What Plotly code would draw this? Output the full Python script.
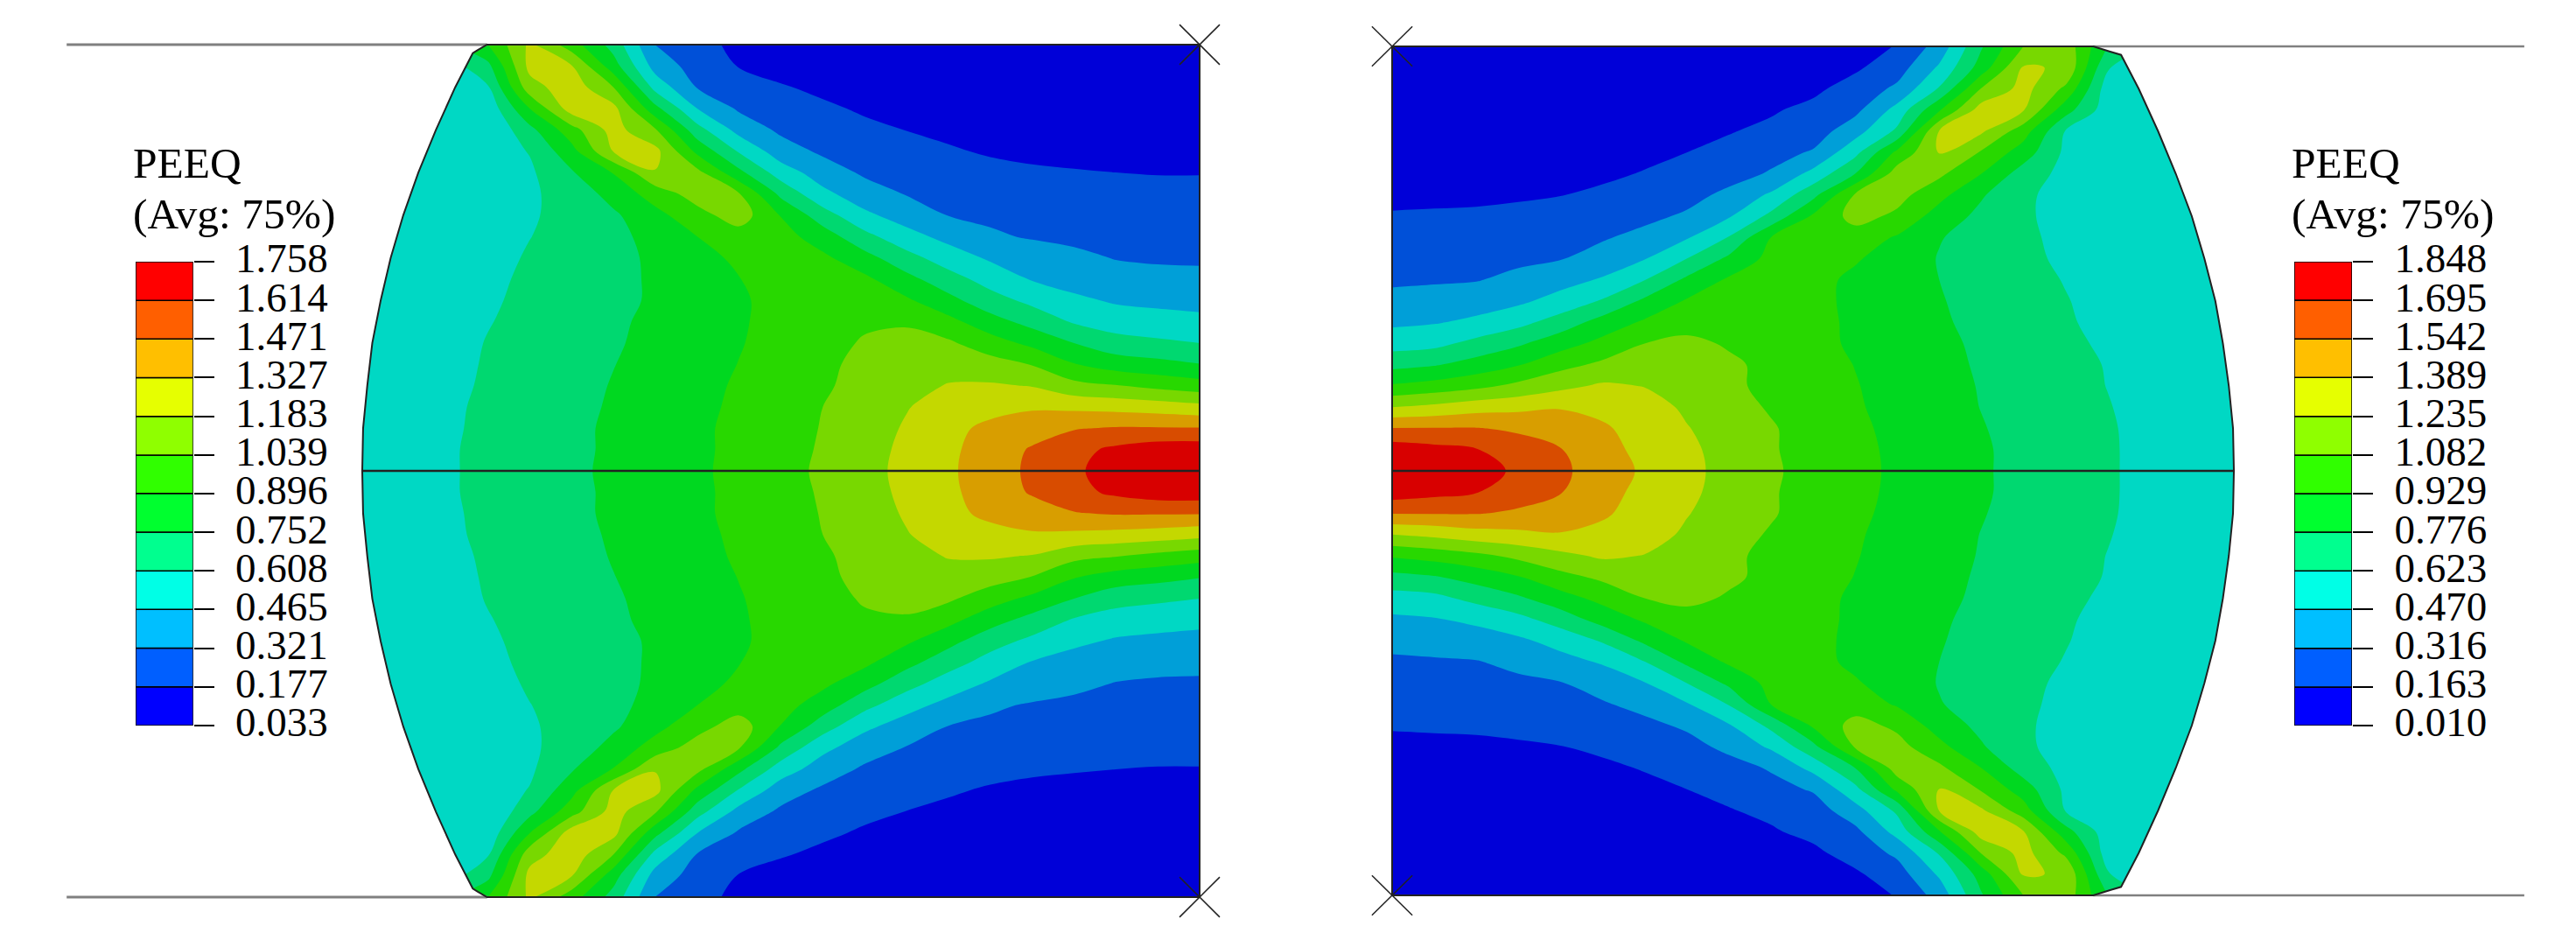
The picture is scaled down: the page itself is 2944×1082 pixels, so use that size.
import numpy as np
import plotly.graph_objects as go

# page body keeps its 8 px margin, so the figure is smaller than the window
PAGE_W, PAGE_H, BODY = 2944, 1082, 8
W, H = PAGE_W - 2 * BODY, PAGE_H - 2 * BODY
FONT = "Liberation Serif"

# legend levels
LEVELS_LEFT = [0.033, 0.177, 0.321, 0.465, 0.608, 0.752, 0.896, 1.039, 1.183, 1.327, 1.471, 1.614, 1.758]
LEVELS_RIGHT = [0.010, 0.163, 0.316, 0.470, 0.623, 0.776, 0.929, 1.082, 1.235, 1.389, 1.542, 1.695, 1.848]
TITLE_LINES = ["PEEQ", "(Avg: 75%)"]

LEGEND_COLORS = ["#0000ff", "#005fff", "#00bfff", "#00ffe6", "#00ff8f", "#00ff2f",
                 "#30ff00", "#8fff00", "#e6ff00", "#ffbf00", "#ff5f00", "#ff0000"]
BODY_COLORS = ["#0000d8", "#0050d8", "#009fd8", "#00d8c4", "#00d870", "#00d820",
               "#28d800", "#78d800", "#c4d800", "#d89e00", "#d84c00", "#d80000"]

# normalised model grid: X from mid-plane, Y from symmetry line
GRID_X = [round(0.05 * i, 2) for i in range(21)]
GRID_Y = [round(1 - 0.05 * i, 2) for i in range(21)]

# barrel profile of the free surface
PROFILE_Y = [0, .1, .2, .3, .4, .5, .6, .7, .8, .9, .98, .9875, 1]
PROFILE_X_LEFT = [1, .999, .994, .988, .978, .966, .951, .933, .912, .889, .868, .862, .851]
PROFILE_X_RIGHT = [1, .999, .994, .987, .978, .965, .95, .931, .91, .887, .866, .853, .833]

# strain on upper half, in contour-band units, rows Y=1..0
# left panel columns run X=1..0 as in the picture
PEEQ_LEFT = [
    [4.0, 4.5, 4.8, 6.0, 8.2, 6.45, 4.6, 1.97, 1.27, 0.8, 0.6, 0.5, 0.4, 0.35, 0.3, 0.3, 0.3, 0.3, 0.3, 0.3, 0.3],
    [3.4, 3.4, 3.5, 4.73, 8.3, 8.05, 5.43, 2.59, 1.57, 0.95, 0.55, 0.45, 0.35, 0.3, 0.3, 0.3, 0.3, 0.3, 0.3, 0.3, 0.3],
    [3.4, 3.4, 3.5, 3.9, 7.6, 8.6, 7.0, 3.65, 1.95, 1.55, 1.1, 0.75, 0.5, 0.4, 0.35, 0.3, 0.3, 0.3, 0.3, 0.3, 0.3],
    [3.4, 3.4, 3.5, 3.3, 6.0, 8.5, 8.3, 5.3, 3.0, 1.86, 1.5, 1.2, 0.85, 0.6, 0.45, 0.4, 0.35, 0.3, 0.3, 0.3, 0.3],
    [3.3, 3.4, 3.5, 3.05, 4.7, 6.6, 8.4, 7.1, 4.4, 2.65, 1.82, 1.55, 1.25, 0.98, 0.7, 0.5, 0.4, 0.35, 0.3, 0.3, 0.3],
    [3.3, 3.4, 3.4, 3.5, 4.05, 5.65, 8.05, 8.3, 5.75, 3.9, 2.45, 1.83, 1.6, 1.38, 1.15, 0.85, 0.6, 0.45, 0.4, 0.35, 0.35],
    [3.3, 3.3, 3.4, 3.5, 3.85, 4.9, 6.05, 7.95, 7.3, 5.25, 3.5, 2.5, 1.85, 1.7, 1.55, 1.4, 1.25, 1.12, 1.0, 0.97, 0.97],
    [3.2, 3.3, 3.4, 3.5, 3.85, 4.4, 5.35, 6.45, 7.45, 7.05, 4.75, 3.25, 2.45, 1.95, 1.75, 1.6, 1.4, 1.3, 1.25, 1.2, 1.2],
    [3.2, 3.3, 3.4, 3.5, 3.9, 4.3, 4.85, 5.7, 6.65, 7.5, 5.95, 4.45, 3.2, 2.55, 1.97, 1.8, 1.65, 1.52, 1.45, 1.42, 1.4],
    [3.2, 3.3, 3.4, 3.6, 3.98, 4.35, 4.75, 5.3, 6.0, 6.55, 6.4, 5.5, 4.3, 3.35, 2.7, 2.15, 1.9, 1.75, 1.65, 1.6, 1.58],
    [3.2, 3.3, 3.45, 3.65, 4.1, 4.4, 4.75, 5.15, 5.65, 6.2, 6.45, 6.2, 5.35, 4.35, 3.5, 2.86, 2.56, 2.25, 1.95, 1.85, 1.83],
    [3.2, 3.35, 3.5, 3.75, 4.2, 4.45, 4.8, 5.1, 5.55, 5.98, 6.3, 6.45, 6.2, 5.3, 4.4, 3.6, 2.93, 2.6, 2.45, 2.33, 2.28],
    [3.2, 3.3, 3.5, 3.85, 4.25, 4.5, 4.8, 5.1, 5.5, 5.9, 6.25, 6.5, 6.55, 6.15, 5.3, 4.4, 3.75, 3.2, 2.88, 2.77, 2.7],
    [3.2, 3.3, 3.55, 3.95, 4.3, 4.6, 4.85, 5.2, 5.55, 5.9, 6.3, 6.45, 6.85, 6.85, 6.3, 5.4, 4.65, 3.9, 3.53, 3.37, 3.24],
    [3.2, 3.3, 3.6, 4.05, 4.35, 4.6, 4.9, 5.25, 5.6, 5.95, 6.3, 6.65, 7.1, 7.4, 7.15, 6.45, 5.75, 5.0, 4.38, 4.18, 4.0],
    [3.2, 3.3, 3.65, 4.1, 4.4, 4.65, 4.98, 5.3, 5.65, 6.02, 6.45, 6.8, 7.25, 7.55, 7.65, 7.4, 6.95, 6.05, 5.53, 5.3, 5.03],
    [3.2, 3.3, 3.7, 4.15, 4.45, 4.7, 5.05, 5.4, 5.75, 6.1, 6.5, 6.9, 7.25, 7.7, 8.05, 8.1, 7.95, 7.3, 7.05, 6.72, 6.44],
    [3.2, 3.3, 3.8, 4.2, 4.5, 4.75, 5.1, 5.45, 5.8, 6.15, 6.55, 7.0, 7.45, 7.95, 8.4, 8.65, 8.88, 8.78, 8.67, 8.52, 8.3],
    [3.2, 3.3, 3.85, 4.2, 4.5, 4.8, 5.15, 5.5, 5.85, 6.2, 6.6, 7.05, 7.55, 8.1, 8.7, 9.25, 9.55, 9.93, 10.08, 10.07, 10.06],
    [3.2, 3.3, 3.9, 4.2, 4.5, 4.8, 5.15, 5.5, 5.85, 6.2, 6.65, 7.1, 7.65, 8.2, 8.8, 9.45, 10.1, 10.7, 11.2, 11.55, 11.6],
    [3.2, 3.3, 3.9, 4.2, 4.55, 4.85, 5.15, 5.55, 5.85, 6.25, 6.7, 7.15, 7.7, 8.25, 8.85, 9.5, 10.2, 10.85, 11.4, 11.75, 11.9],
]

# right panel columns run X=0..1
PEEQ_RIGHT = [
    [0.3, 0.3, 0.3, 0.3, 0.3, 0.3, 0.35, 0.35, 0.4, 0.4, 0.45, 0.6, 1.05, 2.4, 4.9, 7.0, 7.6, 5.0, 4.0, 3.8, 3.8],
    [0.3, 0.3, 0.3, 0.3, 0.3, 0.35, 0.4, 0.45, 0.5, 0.55, 0.65, 0.85, 1.55, 3.15, 5.45, 8.1, 7.9, 4.05, 3.6, 3.5, 3.5],
    [0.3, 0.3, 0.3, 0.35, 0.4, 0.45, 0.5, 0.55, 0.6, 0.65, 0.8, 1.4, 2.2, 4.1, 7.05, 8.35, 6.8, 3.5, 3.4, 3.4, 3.4],
    [0.3, 0.3, 0.35, 0.4, 0.45, 0.5, 0.6, 0.65, 0.75, 0.9, 1.25, 1.75, 3.35, 5.9, 8.5, 8.05, 5.4, 3.45, 3.45, 3.4, 3.4],
    [0.3, 0.35, 0.4, 0.45, 0.5, 0.6, 0.7, 0.8, 0.95, 1.2, 1.5, 2.6, 4.2, 8.05, 8.15, 6.45, 3.95, 3.5, 3.4, 3.35, 3.35],
    [0.3, 0.35, 0.4, 0.5, 0.6, 0.7, 0.8, 1.0, 1.25, 1.65, 2.1, 3.7, 6.25, 8.05, 6.9, 5.5, 3.8, 3.45, 3.4, 3.3, 3.3],
    [0.35, 0.4, 0.5, 0.6, 0.7, 0.85, 1.05, 1.3, 1.6, 2.1, 3.3, 5.0, 7.5, 7.2, 6.0, 4.55, 3.7, 3.4, 3.3, 3.3, 3.3],
    [0.8, 0.82, 0.85, 0.9, 0.98, 1.15, 1.35, 1.65, 2.25, 3.15, 4.7, 7.1, 7.35, 6.3, 5.1, 4.2, 3.6, 3.4, 3.25, 3.25, 3.25],
    [1.07, 1.1, 1.12, 1.2, 1.3, 1.5, 1.75, 2.15, 2.9, 4.25, 6.15, 7.35, 6.8, 5.55, 4.75, 4.15, 3.65, 3.4, 3.25, 3.2, 3.2],
    [1.3, 1.35, 1.4, 1.5, 1.65, 1.9, 2.3, 2.9, 4.05, 6.0, 6.45, 6.55, 5.9, 5.05, 4.65, 4.15, 3.8, 3.45, 3.25, 3.2, 3.2],
    [1.55, 1.6, 1.7, 1.8, 1.95, 2.4, 2.95, 4.0, 5.2, 6.3, 6.4, 6.1, 5.55, 4.95, 4.55, 4.2, 3.85, 3.5, 3.3, 3.2, 3.2],
    [1.85, 1.9, 1.95, 2.25, 2.65, 3.1, 3.98, 5.2, 6.15, 6.4, 6.3, 5.8, 5.5, 5.0, 4.65, 4.35, 3.95, 3.6, 3.35, 3.25, 3.2],
    [2.27, 2.36, 2.56, 2.82, 3.35, 4.1, 5.2, 6.1, 6.35, 6.45, 6.25, 5.8, 5.45, 5.05, 4.75, 4.4, 4.05, 3.65, 3.4, 3.3, 3.25],
    [2.8, 2.93, 3.2, 3.7, 4.45, 5.4, 6.15, 6.45, 6.5, 6.5, 6.25, 5.85, 5.5, 5.1, 4.8, 4.45, 4.1, 3.75, 3.45, 3.3, 3.25],
    [3.6, 3.73, 4.3, 4.85, 5.6, 6.3, 7.0, 7.35, 6.85, 6.55, 6.3, 5.85, 5.55, 5.2, 4.85, 4.5, 4.2, 3.85, 3.5, 3.35, 3.3],
    [4.68, 4.92, 5.4, 5.95, 6.7, 7.2, 7.5, 7.6, 7.25, 6.65, 6.35, 5.98, 5.6, 5.25, 4.9, 4.6, 4.3, 3.95, 3.55, 3.4, 3.3],
    [6.13, 6.4, 6.75, 7.25, 7.75, 8.15, 7.97, 7.55, 7.2, 6.75, 6.4, 6.05, 5.65, 5.3, 4.95, 4.65, 4.35, 3.98, 3.6, 3.4, 3.3],
    [8.0, 8.25, 8.6, 8.75, 8.95, 8.7, 8.4, 7.85, 7.4, 6.9, 6.5, 6.1, 5.7, 5.35, 4.98, 4.65, 4.35, 4.05, 3.65, 3.4, 3.3],
    [10.05, 10.05, 10.05, 9.85, 9.45, 9.15, 8.55, 8.05, 7.55, 7.1, 6.55, 6.2, 5.75, 5.35, 5.05, 4.7, 4.4, 4.1, 3.7, 3.4, 3.3],
    [11.55, 11.3, 11.05, 10.45, 10.05, 9.3, 8.75, 8.2, 7.65, 7.1, 6.6, 6.2, 5.85, 5.45, 5.1, 4.75, 4.45, 4.1, 3.75, 3.45, 3.3],
    [11.8, 11.65, 11.35, 10.85, 10.2, 9.5, 8.85, 8.25, 7.7, 7.15, 6.65, 6.25, 5.85, 5.5, 5.1, 4.75, 4.45, 4.1, 3.75, 3.45, 3.3],
]


def discrete_scale(colors):
    n = len(colors)
    scale = []
    for i, c in enumerate(colors):
        scale += [[i / n, c], [(i + 1) / n, c]]
    return scale


def body_traces(rows, levels, profile_x, axes, grid_x, platen_end, platen_width):
    xa, ya = axes
    rows = np.array(rows)
    low, high = levels[0], levels[-1]
    step = (high - low) / 12
    peeq = low + rows * step
    # lower half is the mirror of the upper half
    y = np.array(GRID_Y)
    y_full = np.r_[y, -y[-2::-1]][::-1]
    z_full = np.vstack([peeq, peeq[-2::-1]])[::-1]
    traces = [go.Contour(
        x=grid_x, y=y_full, z=z_full, xaxis=xa, yaxis=ya, showscale=False,
        zmin=low, zmax=high, colorscale=discrete_scale(BODY_COLORS),
        contours=dict(coloring="fill", start=low, end=high, size=step, showlines=False),
        line=dict(width=0, smoothing=1), hoverinfo="skip")]

    py = np.array(PROFILE_Y)
    px = np.array(profile_x)
    arc_x = np.r_[px[::-1], px[1:]]
    arc_y = np.r_[py[::-1], -py[1:]]
    # white cover outside of the free surface
    traces.append(go.Scatter(x=np.r_[arc_x, 1.03, 1.03], y=np.r_[arc_y, -1.005, 1.005], xaxis=xa, yaxis=ya,
                             mode="lines", fill="toself", fillcolor="white", line=dict(width=0), hoverinfo="skip"))
    # rigid platens
    traces.append(go.Scatter(x=[px[-1], platen_end, None, px[-1], platen_end], y=[1, 1, None, -1, -1],
                             xaxis=xa, yaxis=ya, mode="lines",
                             line=dict(color="#808080", width=platen_width), hoverinfo="skip"))
    # specimen outline and symmetry line
    traces.append(go.Scatter(x=np.r_[0, arc_x, 0, 0], y=np.r_[1, arc_y, -1, 1], xaxis=xa, yaxis=ya,
                             mode="lines", line=dict(color="#222222", width=2), hoverinfo="skip"))
    traces.append(go.Scatter(x=[0, px[0]], y=[0, 0], xaxis=xa, yaxis=ya,
                             mode="lines", line=dict(color="#222222", width=2.5), hoverinfo="skip"))
    # reference node crosses on the mid-plane corners
    cx, cy = 0.024, 0.047
    traces.append(go.Scatter(
        x=[-cx, cx, None, -cx, cx, None, -cx, cx, None, -cx, cx],
        y=[1 - cy, 1 + cy, None, 1 + cy, 1 - cy, None, -1 - cy, -1 + cy, None, -1 + cy, -1 - cy],
        xaxis=xa, yaxis=ya, mode="lines", line=dict(color="#222222", width=1.5), hoverinfo="skip"))
    return traces


def legend_bar(levels, axes):
    edges = np.array(levels)
    return go.Bar(x=[0] * 12, y=np.diff(edges), base=edges[:-1], width=1, xaxis=axes[0], yaxis=axes[1],
                  marker=dict(color=LEGEND_COLORS, line=dict(color="black", width=1.5)), hoverinfo="skip")


fig = go.Figure()
fig.add_traces(body_traces(PEEQ_LEFT, LEVELS_LEFT, PROFILE_X_LEFT, ("x", "y"), GRID_X[::-1], 1.353, 3))
fig.add_traces(body_traces(PEEQ_RIGHT, LEVELS_RIGHT, PROFILE_X_RIGHT, ("x2", "y2"), GRID_X, 1.345, 2.5))
fig.add_trace(legend_bar(LEVELS_LEFT, ("x3", "y3")))
fig.add_trace(legend_bar(LEVELS_RIGHT, ("x4", "y4")))


# all helpers take page pixels
def dom_x(a, b):
    return [(a - BODY) / W, (b - BODY) / W]


def dom_y(top, bottom):
    return [1 - (bottom - BODY) / H, 1 - (top - BODY) / H]


hidden = dict(visible=False)


def panel_axes(px0, scale, left, right, flip, anchor):
    if flip:
        rng = [(px0 - left) / scale, (px0 - right) / scale]
    else:
        rng = [(left - px0) / scale, (right - px0) / scale]
    return dict(hidden, domain=dom_x(left, right), range=rng, anchor=anchor)


def panel_y(mid, half, anchor, top=15, bottom=1065):
    return dict(hidden, domain=dom_y(top, bottom), range=[(mid - bottom) / half, (mid - top) / half], anchor=anchor)


def legend_y(levels, anchor):
    return dict(domain=dom_y(299, 829), anchor=anchor, side="right", range=[levels[0], levels[-1]],
                tickmode="array", tickvals=levels, ticktext=["%.3f" % v for v in levels],
                ticks="outside", ticklen=23, tickwidth=1.5, tickcolor="black",
                ticklabelstandoff=15, ticklabelshift=-4,
                showgrid=False, zeroline=False, showline=False, automargin=False,
                tickfont=dict(family=FONT, size=47, color="black"))


fig.update_layout(
    width=W, height=H, margin=dict(l=0, r=0, t=0, b=0, pad=0, autoexpand=False), autosize=False, showlegend=False,
    paper_bgcolor="white", plot_bgcolor="rgba(0,0,0,0)",
    xaxis=panel_axes(1371, 957, 60, 1420, True, "y"),
    yaxis=panel_y(538, 487, "x"),
    xaxis2=panel_axes(1591, 962, 1550, 2900, False, "y2"),
    yaxis2=panel_y(538, 485, "x2"),
    xaxis3=dict(hidden, domain=dom_x(155, 220.7), range=[-0.5, 0.5], anchor="y3"),
    yaxis3=legend_y(LEVELS_LEFT, "x3"),
    xaxis4=dict(hidden, domain=dom_x(2622, 2688), range=[-0.5, 0.5], anchor="y4"),
    yaxis4=legend_y(LEVELS_RIGHT, "x4"),
)

for x0 in (150, 2617):
    for line, py_text in zip(TITLE_LINES, (187, 244)):
        fig.add_annotation(text=line, xref="paper", yref="paper", x=(x0 - BODY) / W, y=1 - (py_text - BODY) / H,
                           xanchor="left", yanchor="middle", showarrow=False,
                           font=dict(family=FONT, size=49.5, color="black"))

fig.write_html("out.html")
